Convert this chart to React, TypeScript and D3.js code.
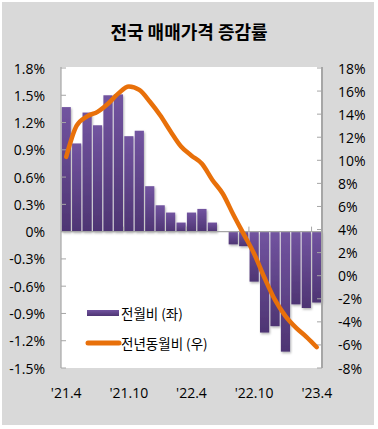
import React from "react";
import * as d3 from "d3";

const categories = [
  "'21.4", "'21.5", "'21.6", "'21.7", "'21.8", "'21.9", "'21.10", "'21.11", "'21.12",
  "'22.1", "'22.2", "'22.3", "'22.4", "'22.5", "'22.6", "'22.7", "'22.8", "'22.9",
  "'22.10", "'22.11", "'22.12", "'23.1", "'23.2", "'23.3", "'23.4",
];
const monthly = [
  1.37, 0.97, 1.31, 1.17, 1.5, 1.51, 1.05, 1.11, 0.5, 0.29, 0.21, 0.1, 0.21,
  0.25, 0.1, 0.0, -0.14, -0.16, -0.55, -1.11, -1.04, -1.32, -0.8, -0.84, -0.78,
];
const yearly = [
  10.3, 13.0, 13.8, 14.2, 14.9, 15.8, 16.4, 16.1, 15.1, 13.9, 12.5, 11.2, 10.4,
  9.7, 8.3, 7.1, 5.3, 3.6, 1.9, -0.2, -2.1, -3.5, -4.5, -5.3, -6.2,
];
const xTickLabels = ["'21.4", "'21.10", "'22.4", "'22.10", "'23.4"];
const leftTicks = [1.8, 1.5, 1.2, 0.9, 0.6, 0.3, 0, -0.3, -0.6, -0.9, -1.2, -1.5];
const rightTicks = [18, 16, 14, 12, 10, 8, 6, 4, 2, 0, -2, -4, -6, -8];
const title = "전국 매매가격 증감률";
const legendLabels = ["전월비 (좌)", "전년동월비 (우)"];

const W = 378;
const H = 429;
const L = 61;
const R = 322;
const T = 68;
const B = 368;
const numFont = "'Open Sans', 'Noto Sans', sans-serif";
const krFont = "'Noto Sans CJK KR', sans-serif";
const axisColor = "#a6a6a6";
const orange = "#E8700A";

export default function App() {
  const x = d3
    .scaleBand<string>()
    .domain(categories)
    .range([L, R])
    .paddingInner(0.12)
    .paddingOuter(0.06);
  const yL = d3.scaleLinear().domain([-1.5, 1.8]).range([B, T]);
  const yR = d3.scaleLinear().domain([-8, 18]).range([B, T]);
  const step = x.step();
  const cx = (c: string) => (x(c) as number) + x.bandwidth() / 2;

  const line = d3
    .line<number>()
    .x((_, i) => cx(categories[i]))
    .y((d) => yR(d))
    .curve(d3.curveMonotoneX);

  const zeroY = yL(0);
  const boundaryTicks = [6, 12, 18, 24].map((k) => L + k * step);

  return (
    <svg
      width={W}
      height={H}
      style={{ position: "absolute", left: 0, top: 0 }}
    >
      <defs>
        <linearGradient id="barGrad" x1="0" y1="0" x2="0" y2="1">
          <stop offset="0%" stopColor="#7254a0" />
          <stop offset="100%" stopColor="#4e3573" />
        </linearGradient>
        <filter id="shadow" x="-20%" y="-20%" width="150%" height="150%">
          <feDropShadow dx="1" dy="1.5" stdDeviation="1" floodColor="#000" floodOpacity="0.3" />
        </filter>
      </defs>
      <rect x={0} y={0} width={W} height={H} fill="#ffffff" />
      <rect x={2} y={2} width={372} height={423} fill="#d9d9d9" />
      <text
        x={189}
        y={31}
        textAnchor="middle"
        dominantBaseline="central"
        fontFamily={krFont}
        fontWeight="bold"
        fontSize={18}
        fill="#000"
      >
        {title}
      </text>
      <rect x={L} y={T - 1} width={R - L} height={B - T + 1} fill="#ffffff" />

      {/* bars */}
      <g filter="url(#shadow)">
        {monthly.map((v, i) => {
          const c = categories[i];
          const y0 = yL(Math.max(0, v));
          const h = Math.abs(yL(v) - zeroY);
          if (h <= 0) return null;
          return (
            <rect
              key={c}
              x={x(c)}
              y={y0}
              width={x.bandwidth()}
              height={h}
              fill="url(#barGrad)"
            />
          );
        })}
      </g>

      {/* zero axis */}
      <line x1={L} x2={R} y1={zeroY} y2={zeroY} stroke={axisColor} strokeWidth={1.2} />
      {boundaryTicks.map((bx, i) => (
        <line key={i} x1={bx} x2={bx} y1={zeroY - 5} y2={zeroY} stroke={axisColor} strokeWidth={1} />
      ))}

      {/* left axis */}
      <line x1={L} x2={L} y1={T - 1} y2={B} stroke={axisColor} strokeWidth={1.2} />
      {leftTicks.map((t) => (
        <g key={"l" + t}>
          <line x1={L} x2={L + 5} y1={yL(t)} y2={yL(t)} stroke={axisColor} strokeWidth={1} />
          <text
            x={45}
            y={yL(t)}
            textAnchor="end"
            dominantBaseline="central"
            fontFamily={numFont}
            fontSize={14}
            fill="#000"
          >
            {t === 0 ? "0%" : t.toFixed(1) + "%"}
          </text>
        </g>
      ))}

      {/* right axis */}
      <line x1={R} x2={R} y1={T - 1} y2={B} stroke={axisColor} strokeWidth={2} />
      {rightTicks.map((t) => (
        <g key={"r" + t}>
          <line x1={R - 5} x2={R} y1={yR(t)} y2={yR(t)} stroke={axisColor} strokeWidth={1} />
          <text
            x={338}
            y={yR(t)}
            textAnchor="start"
            dominantBaseline="central"
            fontFamily={numFont}
            fontSize={14}
            fill="#000"
          >
            {t + "%"}
          </text>
        </g>
      ))}

      {/* x labels */}
      {xTickLabels.map((lab) => (
        <text
          key={lab}
          x={cx(lab)}
          y={392}
          textAnchor="middle"
          dominantBaseline="central"
          fontFamily={numFont}
          fontSize={14}
          fill="#000"
        >
          {lab}
        </text>
      ))}

      {/* line */}
      <path
        d={line(yearly) || ""}
        fill="none"
        stroke={orange}
        strokeWidth={4.5}
        strokeLinecap="round"
        strokeLinejoin="round"
      />

      {/* legend */}
      <rect x={87} y={310} width={32} height={6} fill="url(#barGrad)" />
      <text
        x={121}
        y={313}
        dominantBaseline="central"
        fontFamily={krFont}
        fontSize={13.5}
        fill="#000"
      >
        {legendLabels[0]}
      </text>
      <line x1={88} x2={119} y1={343} y2={343} stroke={orange} strokeWidth={5} strokeLinecap="round" />
      <text
        x={121}
        y={343}
        dominantBaseline="central"
        fontFamily={krFont}
        fontSize={13.5}
        fill="#000"
      >
        {legendLabels[1]}
      </text>
    </svg>
  );
}
